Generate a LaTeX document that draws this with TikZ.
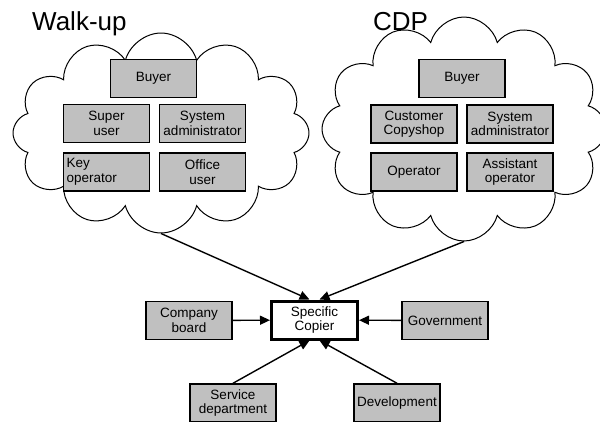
\documentclass[tikz,border=0pt]{standalone}
\usepackage{fontspec}
\setmainfont{Liberation Sans}
\usetikzlibrary{shapes.symbols, arrows.meta, positioning}
\definecolor{boxgray}{RGB}{192,192,192}
\tikzset{
  role/.style={draw, fill=boxgray, line width=1.5pt, minimum width=86pt, minimum height=38pt,
    inner sep=0.5pt, align=center, font=\fontsize{13.5}{14.5}\selectfont},
  copier/.style={role, fill=white, line width=3pt},
  puffy/.style={cloud, draw, line width=1pt, cloud puffs=12, cloud puff arc=150, cloud ignores aspect},
  arr/.style={line width=1.4pt, -{Triangle[length=10pt,width=9pt]}},
  title/.style={anchor=base west, inner sep=0pt, font=\fontsize{26}{26}\selectfont}
}

\begin{document}
\begin{tikzpicture}[x=1pt, y=-1pt]
    \useasboundingbox (0,0) rectangle (600,421);

    % Clouds
    \node[puffy, minimum width=296pt, minimum height=200pt] (walkcloud) at (161,133) {};
    \node[puffy, minimum width=284pt, minimum height=224pt] (cdpcloud) at (464,129) {};

    % Titles
    \node[title] (walktitle) at (32,30) {Walk-up};
    \node[title] (cdptitle) at (373,30) {CDP};

    % Walk-up roles
    \node[role] (walkbuyer) at (153.5,78.5) {Buyer};
    \node[role] (superuser) at (106.5,123.5) {Super\\user};
    \node[role] (walkadmin) at (202.5,123.5) {System\\administrator};
    \node[role, text width=80pt, align=left] (keyop) at (106.5,172) {Key\\operator\\[3pt]};
    \node[role] (officeuser) at (202.5,172) {Office\\user};

    % CDP roles
    \node[role] (cdpbuyer) at (462,78.5) {Buyer};
    \node[role] (customer) at (414,124) {Customer\\Copyshop};
    \node[role] (cdpadmin) at (510,124) {System\\administrator};
    \node[role] (operator) at (414,172) {Operator};
    \node[role] (assistant) at (510,172) {Assistant\\operator};

    % Copier and stakeholders
    \node[copier] (copier) at (314.5,320) {Specific\\Copier};
    \node[role] (board) at (189,320.5) {Company\\board};
    \node[role] (govt) at (445,320.5) {Government};
    \node[role] (service) at (233,403) {Service\\department};
    \node[role] (devel) at (397,403) {Development};

    % Arrows
    \draw[arr] (walkcloud.south) -- ([xshift=-5pt]copier.north);
    \draw[arr] (cdpcloud.south) -- ([xshift=5pt]copier.north);
    \draw[arr] (board) -- (copier);
    \draw[arr] (govt) -- (copier);
    \draw[arr] (service.north) -- ([xshift=-5pt]copier.south);
    \draw[arr] (devel.north) -- ([xshift=5pt]copier.south);
\end{tikzpicture}
\end{document}
